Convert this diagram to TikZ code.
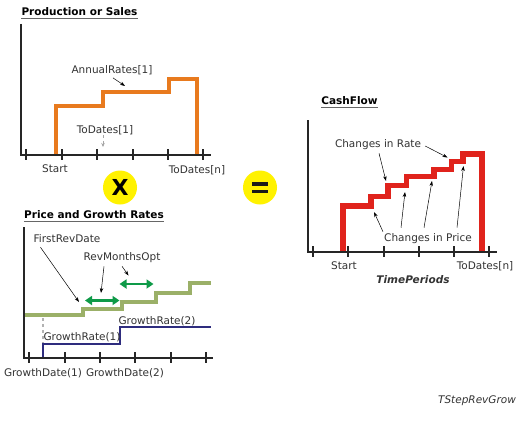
\documentclass[tikz,border=0pt]{standalone}
\usepackage{fontspec}
\setmainfont{DejaVu Sans}
\usetikzlibrary{arrows.meta}
\definecolor{orng}{HTML}{E87A1E}
\definecolor{olivel}{HTML}{9BB068}
\definecolor{navyl}{HTML}{2E2C7E}
\definecolor{gdark}{HTML}{0E9A48}
\definecolor{redl}{HTML}{E0231C}
\definecolor{ylw}{HTML}{FFF200}
\definecolor{txt}{HTML}{333333}
\begin{document}
\begin{tikzpicture}[x=1pt,y=-1pt,
  lbl/.style={font=\fontsize{10.5}{12}\selectfont, text=txt, inner sep=0pt},
  ttl/.style={font=\fontsize{10.5}{12}\selectfont\bfseries, text=black, inner sep=0pt},
  uline/.style={draw=black!60, line width=0.8pt},
  axisl/.style={line width=2pt, draw=black!85},
  tickl/.style={line width=1.5pt, draw=black!85},
  ptr/.style={-{Stealth[length=5pt,width=3.5pt]}, line width=0.5pt, draw=black},
  gptr/.style={-{Stealth[length=4pt,width=3.5pt]}, line width=0.8pt, draw=black!35, dashed},
  dbl/.style={{Triangle[length=7pt,width=9pt]}-{Triangle[length=7pt,width=9pt]}, line width=2.5pt, draw=gdark},
  opcirc/.style={circle, fill=ylw, minimum size=34pt, inner sep=0pt, font=\fontsize{22}{22}\selectfont\bfseries}
]
\useasboundingbox (0,0) rectangle (526,420);
\fill[white] (0,0) rectangle (526,420);

% ---------------- Panel 1: Production or Sales
\node[ttl] (t1) at (79.5,12) {Production or Sales};
\draw[uline] ([yshift=-2.5pt]t1.base west) -- ([yshift=-2.5pt]t1.base east);
\draw[orng, line width=4pt] (56,155) -- (56,106) -- (103,106) -- (103,92) -- (169,92) -- (169,79) -- (197,79) -- (197,155);
\draw[axisl] (21,24) -- (21,155) -- (211,155);
\foreach \x in {26,62,97,133,168,203} \draw[tickl] (\x,149) -- (\x,160);
\node[lbl] (ar) at (112,70) {AnnualRates[1]};
\coordinate (arTip) at (125,86);
\draw[ptr] ([shift={(1,3)}]ar.south) -- (arTip);
\node[lbl] (td1) at (105,130) {ToDates[1]};
\coordinate (td1Tip) at (103,147);
\draw[gptr] (td1.south -| td1Tip) -- (td1Tip);
\node[lbl] (st1) at (55,169) {Start};
\node[lbl] (tdn1) at (197,170) {ToDates[n]};

% operators
\node[opcirc] (times) at (120,187.5) {X};
\node[opcirc] (equals) at (260,187.5) {};
\fill[black!90] (252,182) rectangle (268,185.5);
\fill[black!90] (252,189.5) rectangle (268,193);

% ---------------- Panel 2: Price and Growth Rates
\node[ttl] (t2) at (94,215) {Price and Growth Rates};
\draw[uline] ([yshift=-2.5pt]t2.base west) -- ([yshift=-2.5pt]t2.base east);
\draw[olivel, line width=4pt] (24,315) -- (83,315) -- (83,309) -- (122,309) -- (122,302) -- (156,302) -- (156,293) -- (190,293) -- (190,282.5) -- (211,282.5);
\draw[navyl, line width=2pt] (43,358) -- (43,344) -- (120,344) -- (120,327) -- (211,327);
\draw[black!30, line width=1.2pt, dashed] (43,318) -- (43,343);
\draw[axisl] (24,227) -- (24,358) -- (213,358);
\foreach \x in {29,65,100,135,171,206} \draw[tickl] (\x,352) -- (\x,363);
\node[lbl] (frd) at (67,239) {FirstRevDate};
\coordinate (frdTip) at (79,302);
\draw[ptr] ([shift={(7,4)}]frd.south west) -- (frdTip);
\node[lbl] (rmo) at (122,258) {RevMonthsOpt};
\coordinate (rmoTipA) at (101,293);
\coordinate (rmoTipB) at (128.5,275.5);
\draw[ptr] ([shift={(-18,3)}]rmo.south) -- (rmoTipA);
\draw[ptr] ([shift={(0,3)}]rmo.south) -- (rmoTipB);
\coordinate (g1a) at (85,300.5);
\coordinate (g1b) at (119.5,300.5);
\coordinate (g2a) at (119.5,284);
\coordinate (g2b) at (153.5,284);
\draw[dbl] (g1a) -- (g1b);
\draw[dbl] (g2a) -- (g2b);
\node[lbl] (gr1) at (82,337) {GrowthRate(1)};
\node[lbl] (gr2) at (157,321) {GrowthRate(2)};
\node[lbl] (gd1) at (43,373) {GrowthDate(1)};
\node[lbl] (gd2) at (125,373) {GrowthDate(2)};

% ---------------- Panel 3: CashFlow
\node[ttl] (t3) at (349.5,101) {CashFlow};
\draw[uline] ([yshift=-2.5pt]t3.base west) -- ([yshift=-2.5pt]t3.base east);
\draw[redl, line width=5.5pt] (343,252) -- (343,206) -- (371,206) -- (371,196.5) -- (388,196.5) -- (388,185.5) -- (406.5,185.5) -- (406.5,176.5) -- (434,176.5) -- (434,169.5) -- (451.5,169.5) -- (451.5,161.5) -- (463,161.5) -- (463,154) -- (482,154) -- (482,252);
\draw[axisl] (308,120) -- (308,252) -- (497,252);
\foreach \x in {313,348,384,419,454,489} \draw[tickl] (\x,246) -- (\x,257);
\node[lbl] (cir) at (378,145) {Changes in Rate};
\coordinate (cirA) at (386,181);
\coordinate (cirB) at (447.5,157.5);
\draw[ptr] ([shift={(1,3)}]cir.south) -- (cirA);
\draw[ptr] ([shift={(4,1)}]cir.east) -- (cirB);
\node[lbl] (cip) at (428,239) {Changes in Price};
\coordinate (cipA) at (374,212);
\coordinate (cipB) at (405,192);
\coordinate (cipC) at (432,181);
\coordinate (cipD) at (463.5,166);
\draw[ptr] ([shift={(-45,-2)}]cip.north) -- (cipA);
\draw[ptr] ([shift={(-27,-6)}]cip.north) -- (cipB);
\draw[ptr] ([shift={(-4,-6)}]cip.north) -- (cipC);
\draw[ptr] ([shift={(29,-6)}]cip.north) -- (cipD);
\node[lbl] (st3) at (344,266) {Start};
\node[lbl] (tdn3) at (485,266) {ToDates[n]};
\node[lbl, font=\fontsize{10.5}{12}\selectfont\bfseries\itshape] (tp) at (413,280) {TimePeriods};

\node[lbl, font=\fontsize{10.5}{12}\selectfont\itshape] (name) at (477,401) {TStepRevGrow};
\end{tikzpicture}
\end{document}
